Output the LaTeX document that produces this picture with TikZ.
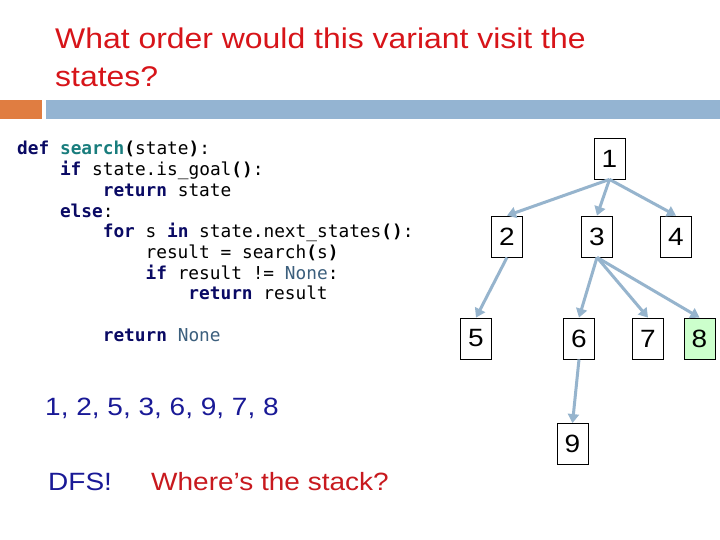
\documentclass[tikz,border=0pt]{standalone}
\usepackage{fontspec}
\setmainfont{Liberation Sans}[FakeStretch=1.12]
\setmonofont{DejaVu Sans Mono}
\usetikzlibrary{arrows.meta}
\definecolor{titlered}{RGB}{215,20,25}
\definecolor{askred}{RGB}{200,25,30}
\definecolor{navytext}{RGB}{25,25,150}
\definecolor{barorange}{RGB}{224,125,65}
\definecolor{barblue}{RGB}{148,180,210}
\definecolor{edgeblue}{RGB}{150,180,205}
\definecolor{goalgreen}{RGB}{204,255,204}
\definecolor{kwnavy}{RGB}{10,10,100}
\definecolor{fnteal}{RGB}{25,125,125}
\definecolor{nonecol}{RGB}{60,95,125}
\newcommand{\codekw}[1]{\textbf{\color{kwnavy}#1}}
\newcommand{\codefn}[1]{\textbf{\color{fnteal}#1}}
\newcommand{\codenone}[1]{{\color{nonecol}#1}}
\newcommand{\codep}[1]{\textbf{#1}}
\begin{document}
\begin{tikzpicture}[x=1pt,y=-1pt,
  codeline/.style={anchor=base west,inner sep=0pt,font=\ttfamily\fontsize{17.8}{20}\selectfont},
  st/.style={draw,line width=0.8pt,minimum width=31pt,minimum height=41pt,inner sep=0pt,font=\fontsize{25}{25}\selectfont},
  edge/.style={draw=edgeblue,line width=3pt,-{Triangle[length=9pt,width=11pt]}},
  titletext/.style={anchor=base west,inner sep=0pt,text=titlered,font=\fontsize{28.5}{30}\selectfont},
  bodytext/.style={anchor=base west,inner sep=0pt,font=\fontsize{25}{27}\selectfont}]
\useasboundingbox (0,0) rectangle (720,540);
\fill[white] (0,0) rectangle (720,540);
% title
\node[titletext] (t1) at (55,49) {What order would this variant visit the};
\node[titletext] (t2) at (55,87) {states?};
% header bars
\fill[barorange] (0,100) rectangle (42,119);
\fill[barblue] (46,100) rectangle (720,119);
% code
\node[codeline] (c0) at (17,155) {\codekw{def} \codefn{search}\codep{(}state\codep{)}:};
\node[codeline] (c1) at (59.8,175.7) {\codekw{if} state.is\_goal\codep{()}:};
\node[codeline] (c2) at (102.6,196.4) {\codekw{return} state};
\node[codeline] (c3) at (59.8,217.1) {\codekw{else}:};
\node[codeline] (c4) at (102.6,237.8) {\codekw{for} s \codekw{in} state.next\_states\codep{()}:};
\node[codeline] (c5) at (145.4,258.5) {result = search\codep{(}s\codep{)}};
\node[codeline] (c6) at (145.4,279.2) {\codekw{if} result != \codenone{None}:};
\node[codeline] (c7) at (188.2,299.9) {\codekw{return} result};
\node[codeline] (c9) at (102.6,341.3) {\codekw{return} \codenone{None}};
% tree
\node[st] (n1) at (609.5,158.5) {1};
\node[st] (n2) at (507,236.5) {2};
\node[st] (n3) at (597,236.5) {3};
\node[st] (n4) at (676,236.5) {4};
\node[st] (n5) at (476,338.5) {5};
\node[st] (n6) at (579,338.5) {6};
\node[st] (n7) at (648,338.5) {7};
\node[st,fill=goalgreen] (n8) at (699.5,338.5) {8};
\node[st] (n9) at (572.5,444) {9};
\draw[edge] (n1.south) -- (n2.north);
\draw[edge] (n1.south) -- (n3.north);
\draw[edge] (n1.south) -- (n4.north);
\draw[edge] (n2.south) -- (n5.north);
\draw[edge] (n3.south) -- (n6.north);
\draw[edge] (n3.south) -- (n7.north);
\draw[edge] (n3.south) -- (n8.north);
\draw[edge] (n6.south) -- (n9.north);
% answer texts
\node[bodytext,text=navytext] (order) at (45,415) {1, 2, 5, 3, 6, 9, 7, 8};
\node[bodytext,text=navytext] (dfs) at (48,490) {DFS!};
\node[bodytext,text=askred] (ask) at (151,490) {Where’s the stack?};
\end{tikzpicture}
\end{document}
